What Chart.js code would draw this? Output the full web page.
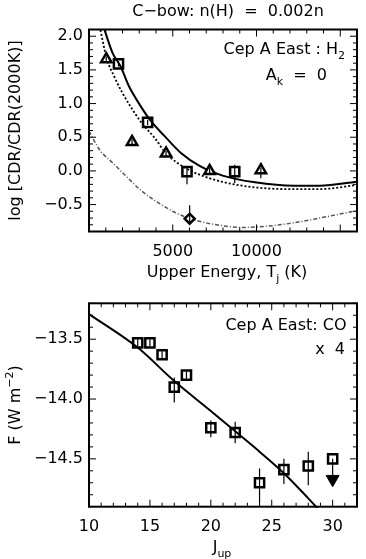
<!DOCTYPE html>
<html>
<head>
<meta charset="utf-8">
<script src="https://cdn.jsdelivr.net/npm/chart.js@4.4.1/dist/chart.umd.min.js"></script>
<style>
  html, body { margin: 0; padding: 0; background: #fff; }
  #wrap { position: relative; width: 366px; height: 559px; }
  canvas { position: absolute; left: 0; }
</style>
</head>
<body>
<div id="wrap">
  <canvas id="h2Chart" width="366" height="285" style="top:0"></canvas>
  <canvas id="coChart" width="366" height="274" style="top:285px"></canvas>
</div>
<script>
// ---- top panel: H2, log CDR ratio vs upper energy ----
const h2XTicks = [5000, 10000];
const h2YTicks = [-0.5, 0.0, 0.5, 1.0, 1.5, 2.0];

const triT = [1030, 2570, 4600, 7200, 10260];
const triY = [1.66, 0.43, 0.26, 0.00, 0.01];
const triErrPlus = [0.04, 0.04, 0.04, 0.04, 0.04];
const triErrMinus = [0.04, 0.04, 0.04, 0.04, 0.12];

const sqT = [1760, 3500, 5850, 8700];
const sqY = [1.59, 0.72, -0.01, -0.01];
const sqErrPlus = [0.04, 0.04, 0.07, 0.10];
const sqErrMinus = [0.04, 0.04, 0.19, 0.17];

const diaT = [6010];
const diaY = [-0.71];
const diaErrPlus = [0.20];
const diaErrMinus = [0.06];

// model curves
const solidT = [930, 1410, 1890, 2380, 2960, 3630, 4500, 5470, 6630, 7980, 9910, 12230, 13780, 16000];
const solidY = [2.09, 1.75, 1.55, 1.26, 1.01, 0.76, 0.52, 0.27, 0.07, -0.07, -0.17, -0.22, -0.22, -0.16];
const dotT = [680, 1070, 1510, 1990, 2470, 3150, 3920, 4600, 5860, 7210, 9140, 11840, 13780, 16000];
const dotY = [2.09, 1.66, 1.40, 1.16, 0.96, 0.71, 0.49, 0.26, 0.03, -0.11, -0.22, -0.27, -0.27, -0.21];
const dashT = [0, 640, 1410, 2180, 3150, 4120, 5080, 6050, 7600, 9140, 10700, 12240, 13780, 16000];
const dashY = [0.59, 0.31, 0.12, -0.07, -0.30, -0.47, -0.61, -0.71, -0.80, -0.84, -0.82, -0.77, -0.70, -0.59];

// ---- bottom panel: CO flux vs J_up ----
const coXTicks = [10, 15, 20, 25, 30];
const coYTicks = [-14.5, -14.0, -13.5];

const coJ = [14, 15, 16, 17, 18, 20, 22, 24, 26, 28, 30];
const coF = [-13.53, -13.53, -13.63, -13.90, -13.80, -14.24, -14.28, -14.70, -14.59, -14.56, -14.50];
const coErrPlus = [0.03, 0.03, 0.03, 0.08, 0.03, 0.06, 0.09, 0.12, 0.09, 0.12, 0.0];
const coErrMinus = [0.03, 0.03, 0.03, 0.13, 0.03, 0.08, 0.09, 0.17, 0.12, 0.16, 0.15];
const limJ = [30];
const limF = [-14.67];

const modelJ = [10, 14, 17, 20, 22, 24, 26, 28, 30];
const modelF = [-13.29, -13.57, -13.85, -14.10, -14.27, -14.44, -14.62, -14.83, -15.05];

const MAIN_FONT = '16px "DejaVu Sans"';
const SMALL_FONT = '11px "DejaVu Sans"';
Chart.defaults.font.family = '"DejaVu Sans"';
Chart.defaults.font.size = 16;
Chart.defaults.color = '#000';

const pts = (xs, ys) => xs.map((x, i) => ({ x: x, y: ys[i] }));
const fmt = v => v.toFixed(1).replace('-', '\u2212');

// text with sub/superscripts: parts = [[text, 'sub'|'sup'|'']]
function drawRich(ctx, parts, x, y, align) {
  const widths = parts.map(([t, k]) => { ctx.font = k ? SMALL_FONT : MAIN_FONT; return ctx.measureText(t).width; });
  const total = widths.reduce((a, b) => a + b, 0);
  let cx = align === 'right' ? x - total : align === 'center' ? x - total / 2 : x;
  parts.forEach(([t, k], i) => {
    ctx.font = k ? SMALL_FONT : MAIN_FONT;
    const dy = k === 'sub' ? 5 : k === 'sup' ? -7 : 0;
    ctx.fillText(t, cx, y + dy);
    cx += widths[i];
  });
}

// IDL-like box: frame plus inward ticks on all four sides, error bars, texts
const idlBox = {
  id: 'idlBox',
  afterDatasetsDraw(chart, args, opts) {
    const ctx = chart.ctx;
    const { x: xs, y: ys } = chart.scales;
    ctx.save();
    ctx.strokeStyle = '#000';
    ctx.lineWidth = 1.2;
    chart.data.datasets.forEach(ds => {
      if (!ds.errPlus) return;
      ds.data.forEach((p, i) => {
        const px = xs.getPixelForValue(p.x);
        ctx.beginPath();
        ctx.moveTo(px, ys.getPixelForValue(p.y + ds.errPlus[i]));
        ctx.lineTo(px, ys.getPixelForValue(p.y - ds.errMinus[i]));
        ctx.stroke();
      });
    });
    ctx.restore();
  },
  afterDraw(chart, args, opts) {
    const ctx = chart.ctx;
    const a = chart.chartArea;
    const { x: xs, y: ys } = chart.scales;
    ctx.save();
    ctx.strokeStyle = '#000';
    ctx.lineWidth = 1;
    const ticks = (scale, minor, major, cb) => {
      for (let i = Math.ceil(scale.min / minor - 1e-9); i * minor <= scale.max + 1e-9; i++) {
        const v = i * minor;
        const isMajor = Math.abs(v / major - Math.round(v / major)) < 1e-6;
        cb(scale.getPixelForValue(v), isMajor ? 7 : 4);
      }
    };
    ctx.beginPath();
    ticks(xs, opts.xMinor, opts.xMajor, (p, len) => {
      ctx.moveTo(p, a.bottom); ctx.lineTo(p, a.bottom - len);
      ctx.moveTo(p, a.top); ctx.lineTo(p, a.top + len);
    });
    ticks(ys, opts.yMinor, opts.yMajor, (p, len) => {
      ctx.moveTo(a.left, p); ctx.lineTo(a.left + len, p);
      ctx.moveTo(a.right, p); ctx.lineTo(a.right - len, p);
    });
    ctx.stroke();
    ctx.lineWidth = 2;
    ctx.strokeRect(a.left, a.top, a.right - a.left, a.bottom - a.top);

    ctx.fillStyle = '#000';
    ctx.textAlign = 'left';
    ctx.textBaseline = 'alphabetic';
    opts.texts.forEach(t => {
      ctx.save();
      ctx.translate(t.x, t.y);
      if (t.rotate) ctx.rotate(-Math.PI / 2);
      drawRich(ctx, t.parts, 0, 0, t.align);
      ctx.restore();
    });
    ctx.restore();
  }
};

function axes(xMin, xMax, xTicks, xHeight, yMin, yMax, yTicks, xFmt) {
  return {
    x: {
      type: 'linear', min: xMin, max: xMax,
      grid: { display: false, drawTicks: false },
      border: { display: false },
      ticks: { padding: 11, autoSkip: false, maxRotation: 0, font: { size: 16 }, callback: xFmt },
      afterBuildTicks: s => { s.ticks = xTicks.map(v => ({ value: v })); },
      afterFit: s => { s.height = xHeight; }
    },
    y: {
      type: 'linear', min: yMin, max: yMax,
      grid: { display: false, drawTicks: false },
      border: { display: false },
      ticks: { padding: 6, autoSkip: false, font: { size: 16 }, callback: v => fmt(v) },
      afterBuildTicks: s => { s.ticks = yTicks.map(v => ({ value: v })); },
      afterFit: s => { s.width = 89; }
    }
  };
}

const common = {
  responsive: false,
  animation: false,
  events: [],
  plugins: { legend: { display: false }, tooltip: { enabled: false } }
};

new Chart(document.getElementById('h2Chart'), {
  type: 'scatter',
  data: {
    datasets: [
      { data: pts(triT, triY), pointStyle: 'triangle', pointRadius: 6, borderColor: '#000', backgroundColor: '#fff', borderWidth: 2.5, errPlus: triErrPlus, errMinus: triErrMinus },
      { data: pts(sqT, sqY), pointStyle: 'rect', pointRadius: 6.5, borderColor: '#000', backgroundColor: 'rgba(0,0,0,0)', borderWidth: 2.5, errPlus: sqErrPlus, errMinus: sqErrMinus },
      { data: pts(diaT, diaY), pointStyle: 'rectRot', pointRadius: 5, borderColor: '#000', backgroundColor: '#fff', borderWidth: 2.5, errPlus: diaErrPlus, errMinus: diaErrMinus },
      { data: pts(solidT, solidY), showLine: true, pointRadius: 0, borderColor: '#000', borderWidth: 2, cubicInterpolationMode: 'monotone', clip: 1 },
      { data: pts(dotT, dotY), showLine: true, pointRadius: 0, borderColor: '#000', borderWidth: 1.8, borderDash: [2, 2], cubicInterpolationMode: 'monotone', clip: 1 },
      { data: pts(dashT, dashY), showLine: true, pointRadius: 0, borderColor: '#555', borderWidth: 1.5, borderDash: [4, 2, 1, 2], cubicInterpolationMode: 'monotone', clip: 1 }
    ]
  },
  options: Object.assign({}, common, {
    layout: { padding: { top: 29.5, right: 1.5, left: 0, bottom: 0 } },
    scales: axes(0, 16000, h2XTicks, 53.5, -0.9, 2.1, h2YTicks, v => String(v)),
    plugins: Object.assign({}, common.plugins, {
      idlBox: {
        xMinor: 1000, xMajor: 5000, yMinor: 0.1, yMajor: 0.5,
        texts: [
          { parts: [['C\u2212bow: n(H)  =  0.002n', '']], x: 228, y: 16, align: 'center' },
          { parts: [['Cep A East : H', ''], ['2', 'sub']], x: 345, y: 53.5, align: 'right' },
          { parts: [['A', ''], ['k', 'sub'], ['  =  0', '']], x: 327, y: 79.5, align: 'right' },
          { parts: [['Upper Energy, T', ''], ['j', 'sub'], [' (K)', '']], x: 227, y: 277, align: 'center' },
          { parts: [['log [CDR/CDR(2000K)]', '']], x: 19.5, y: 130.5, align: 'center', rotate: true }
        ]
      }
    })
  }),
  plugins: [idlBox]
});

new Chart(document.getElementById('coChart'), {
  type: 'scatter',
  data: {
    datasets: [
      { data: pts(coJ, coF), pointStyle: 'rect', pointRadius: 6.5, borderColor: '#000', backgroundColor: 'rgba(0,0,0,0)', borderWidth: 2.5, errPlus: coErrPlus, errMinus: coErrMinus },
      { data: pts(limJ, limF), pointStyle: 'triangle', rotation: 180, pointRadius: 7.5, borderColor: '#000', backgroundColor: '#000', borderWidth: 1 },
      { data: pts(modelJ, modelF), showLine: true, pointRadius: 0, borderColor: '#000', borderWidth: 2, cubicInterpolationMode: 'monotone', clip: 1 }
    ]
  },
  options: Object.assign({}, common, {
    layout: { padding: { top: 18.3, right: 1.5, left: 0, bottom: 0 } },
    scales: axes(10, 32, coXTicks, 52.3, -14.9, -13.2, coYTicks, v => String(v)),
    plugins: Object.assign({}, common.plugins, {
      idlBox: {
        xMinor: 1, xMajor: 5, yMinor: 0.1, yMajor: 0.5,
        texts: [
          { parts: [['Cep A East: CO', '']], x: 346.5, y: 45, align: 'right' },
          { parts: [['x  4', '']], x: 345, y: 69, align: 'right' },
          { parts: [['J', ''], ['up', 'sub']], x: 222, y: 267, align: 'center' },
          { parts: [['F (W m', ''], ['\u22122', 'sup'], [')', '']], x: 19.5, y: 120, align: 'center', rotate: true }
        ]
      }
    })
  }),
  plugins: [idlBox]
});
</script>
</body>
</html>
